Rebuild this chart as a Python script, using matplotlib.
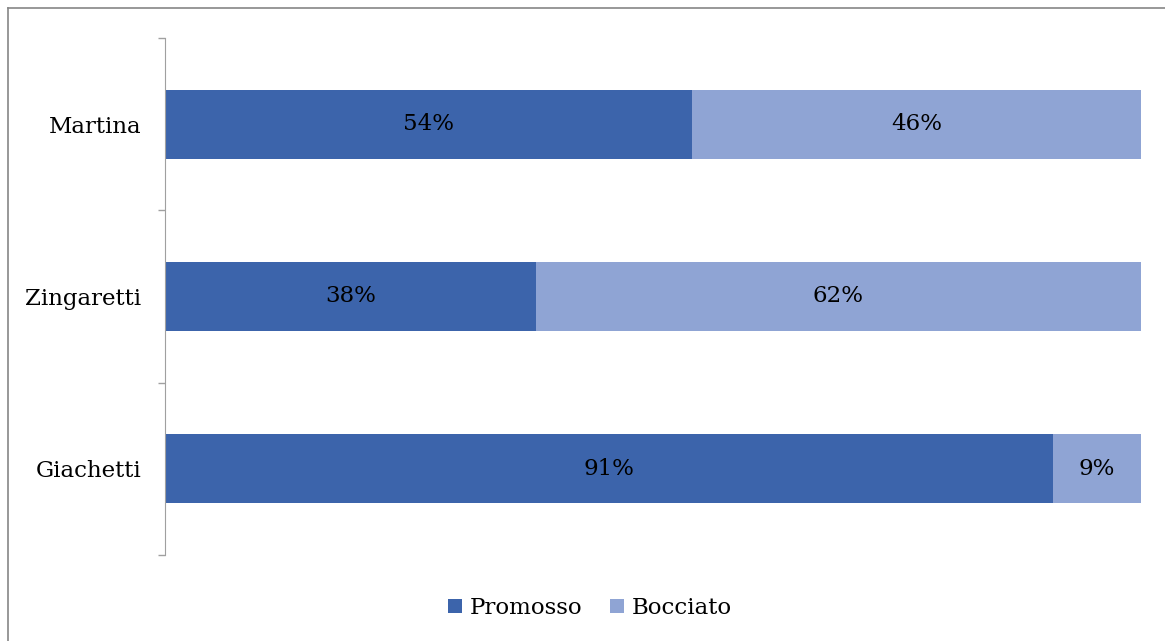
import matplotlib
matplotlib.use("Agg")
import matplotlib.pyplot as plt
from matplotlib.lines import Line2D

# candidates, listed bottom to top
candidates = ["Giachetti", "Zingaretti", "Martina"]
promosso = [91, 38, 54]
bocciato = [9, 62, 46]

dark_blue = "#3C64AB"
light_blue = "#8FA4D4"
fs = 16.5

plt.rcParams["font.family"] = ["DejaVu Serif"]

fig = plt.figure(figsize=(11.65, 6.41), dpi=100)
ax = fig.add_axes([165 / 1165, 1 - 555 / 641, (1141 - 165) / 1165, (555 - 38) / 641])

pos = list(range(len(candidates)))
bars1 = ax.barh(pos, promosso, height=0.4, color=dark_blue, label="Promosso")
bars2 = ax.barh(pos, bocciato, left=promosso, height=0.4, color=light_blue, label="Bocciato")

for bars, vals, starts in [(bars1, promosso, [0] * 3), (bars2, bocciato, promosso)]:
    for b, v, s in zip(bars, vals, starts):
        ax.text(s + v / 2, b.get_y() + b.get_height() / 2, f"{v}%",
                ha="center", va="center", fontsize=fs, color="black")

ax.set_xlim(0, 100)
ax.set_ylim(-0.5, len(candidates) - 0.5)
ax.set_yticks(pos)
ax.set_yticklabels(candidates, fontsize=fs)
ax.set_yticks([-0.5, 0.5, 1.5, 2.5], minor=True)
ax.tick_params(axis="y", which="major", length=0, pad=17)
ax.tick_params(axis="y", which="minor", length=5, color="#A0A0A0", width=1)
ax.set_xticks([])
for side in ["top", "right", "bottom"]:
    ax.spines[side].set_visible(False)
ax.spines["left"].set_color("#A0A0A0")

ax.legend(loc="center", bbox_to_anchor=(590 / 1165, 1 - 608 / 641),
          bbox_transform=fig.transFigure, ncol=2, frameon=False, fontsize=fs,
          handlelength=0.6, handleheight=0.6, handletextpad=0.35, columnspacing=1.2)

# chart border (top and left edges visible)
fig.add_artist(Line2D([8 / 1165, 1.01], [1 - 8 / 641] * 2, color="#868686", lw=1.2))
fig.add_artist(Line2D([8 / 1165] * 2, [-0.01, 1 - 8 / 641], color="#868686", lw=1.2))

fig.savefig("out.png", dpi=100)
